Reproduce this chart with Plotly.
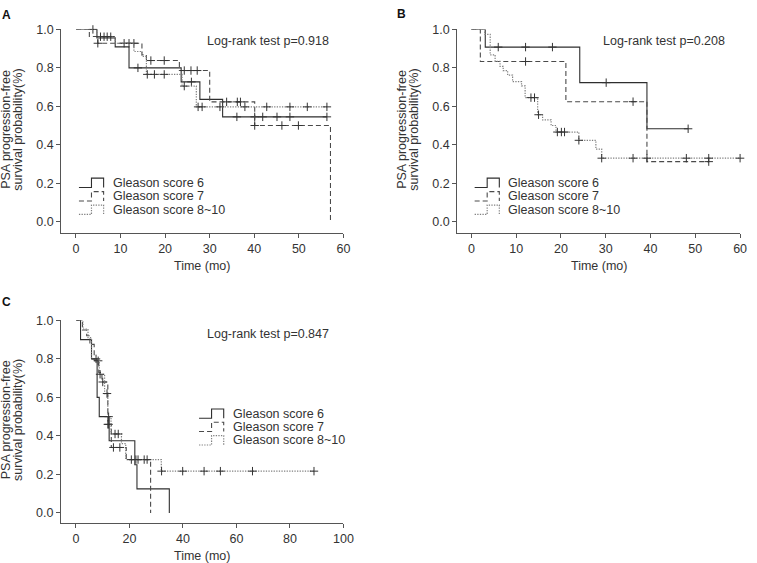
import numpy as np
import plotly.graph_objects as go

W, H = 757, 563

# ---------------- data ----------------
groups = ["Gleason score 6", "Gleason score 7", "Gleason score 8~10"]

# Panel A
A_g6_t = [0, 4.7, 8.8, 11.9, 23.6, 27.8, 32.9]
A_g6_s = [1.0, 0.955, 0.909, 0.80, 0.727, 0.636, 0.545]
A_g6_end = 56.3
A_g6_cens = [3.8, 13.9, 25.9, 36.1, 40.1, 41.9, 45.1, 48.0, 56.3]

A_g7_t = [0, 3.0, 4.9, 14.8, 15.8, 23.2, 30.0, 40.1, 57.1]
A_g7_s = [1.0, 0.963, 0.928, 0.868, 0.838, 0.786, 0.623, 0.50, 0.0]
A_g7_end = 57.1
A_g7_cens = [4.9, 10.8, 11.9, 13.0, 16.8, 19.8, 24.3, 25.8, 27.2,
             33.8, 36.2, 36.9, 40.1, 46.2, 49.9]

A_g8_t = [0, 4.7, 8.8, 13.0, 14.8, 15.8, 23.8, 27.0]
A_g8_s = [1.0, 0.962, 0.928, 0.885, 0.86, 0.766, 0.705, 0.597]
A_g8_end = 56.3
A_g8_cens = [5.5, 6.3, 7.0, 7.8, 16.0, 17.6, 19.8, 24.3, 27.4, 28.3,
             32.3, 37.9, 42.8, 48.0, 51.9, 56.3]

# Panel B
B_g6_t = [0, 3.1, 24.2, 39.2]
B_g6_s = [1.0, 0.908, 0.723, 0.483]
B_g6_end = 48.4
B_g6_cens = [6.0, 12.1, 18.1, 30.1, 48.4]

B_g7_t = [0, 2.0, 21.1, 39.2]
B_g7_s = [1.0, 0.833, 0.624, 0.312]
B_g7_end = 53.0
B_g7_cens = [12.1, 36.1, 53.0]

B_g8_t = [0, 3.0, 4.2, 5.3, 6.4, 7.1, 8.1, 9.2, 11.2, 12.0, 14.8, 15.9,
          17.8, 18.9, 24.0, 27.8, 29.1]
B_g8_s = [1.0, 0.974, 0.868, 0.834, 0.808, 0.786, 0.762, 0.728, 0.706,
          0.645, 0.556, 0.529, 0.50, 0.466, 0.423, 0.377, 0.33]
B_g8_end = 60.0
B_g8_cens = [13.3, 14.1, 15.0, 19.2, 20.1, 20.8, 24.0, 29.1, 36.1, 39.2,
             48.0, 53.0, 60.0]

# Panel C
C_g6_t = [0, 1.7, 5.8, 7.9, 8.7, 12.4, 22.0, 22.8, 34.9]
C_g6_s = [1.0, 0.90, 0.80, 0.60, 0.50, 0.375, 0.25, 0.125, 0.0]
C_g6_end = 34.9
C_g6_cens = []

C_g7_t = [0, 2.4, 4.0, 5.2, 6.8, 8.5, 9.7, 11.9, 13.2, 18.8, 27.9]
C_g7_s = [1.0, 0.95, 0.92, 0.875, 0.79, 0.73, 0.68, 0.46, 0.34, 0.277, 0.0]
C_g7_end = 27.9
C_g7_cens = [8.3, 10.0, 11.9, 12.2, 14.0, 16.4, 22.4, 25.5]

C_g8_t = [0, 2.6, 4.5, 5.8, 8.7, 10.7, 11.9, 13.1, 17.0, 18.6, 31.9]
C_g8_s = [1.0, 0.955, 0.91, 0.80, 0.72, 0.62, 0.50, 0.41, 0.36, 0.277, 0.217]
C_g8_end = 89.0
C_g8_cens = [7.5, 9.0, 11.6, 12.2, 14.6, 15.8, 20.7, 23.2, 26.6, 32.0,
             39.9, 47.9, 54.0, 66.0, 89.0]

pvalues = ["0.918", "0.208", "0.847"]
panel_letters = ["A", "B", "C"]
x_ticks_AB = [0, 10, 20, 30, 40, 50, 60]
x_ticks_C = [0, 20, 40, 60, 80, 100]
y_ticks = [0.0, 0.2, 0.4, 0.6, 0.8, 1.0]

# ---------------- styling ----------------
FONT = "Liberation Sans, Arial, Helvetica, sans-serif"
TXT = "#333333"
AX = "#555555"
FS = 12.5
styles = [
    dict(color="#2e2e2e", dash="solid", width=1.1),
    dict(color="#4a4a4a", dash="5px,3px", width=1.1),
    dict(color="#808080", dash="1.3px,1.3px", width=1.2),
]
CENS_COLOR = "#333333"


def px(x):
    return x / W


def py(y):
    return 1 - y / H


fig = go.Figure()

panels = [
    dict(name="A", series=[(A_g6_t, A_g6_s, A_g6_end, A_g6_cens),
                           (A_g7_t, A_g7_s, A_g7_end, A_g7_cens),
                           (A_g8_t, A_g8_s, A_g8_end, A_g8_cens)],
         xa="x", ya="y", xdom=(62, 348), ydom=(228.7, 22.7),
         xr=[-3.32, 60], yr=[-0.0586, 1.0], xt=x_ticks_AB),
    dict(name="B", series=[(B_g6_t, B_g6_s, B_g6_end, B_g6_cens),
                           (B_g7_t, B_g7_s, B_g7_end, B_g7_cens),
                           (B_g8_t, B_g8_s, B_g8_end, B_g8_cens)],
         xa="x2", ya="y2", xdom=(463.3, 750), ydom=(228.7, 22.7),
         xr=[-3.17, 60], yr=[-0.0586, 1.0], xt=x_ticks_AB),
    dict(name="C", series=[(C_g6_t, C_g6_s, C_g6_end, C_g6_cens),
                           (C_g7_t, C_g7_s, C_g7_end, C_g7_cens),
                           (C_g8_t, C_g8_s, C_g8_end, C_g8_cens)],
         xa="x3", ya="y3", xdom=(61.7, 348), ydom=(522.7, 317.3),
         xr=[-5.65, 100], yr=[-0.0533, 1.0], xt=x_ticks_C),
]

layout_axes = {}
annotations = []
shapes = []

for pi, p in enumerate(panels):
    for gi, (t, s, end, cens) in enumerate(p["series"]):
        st = styles[gi]
        xs = list(t)
        ys = list(s)
        if end > xs[-1]:
            xs.append(end)
            ys.append(ys[-1])
        fig.add_trace(go.Scatter(
            x=xs, y=ys, mode="lines", line_shape="hv",
            line=dict(color=st["color"], dash=st["dash"], width=st["width"]),
            xaxis=p["xa"], yaxis=p["ya"], showlegend=False,
            hoverinfo="skip", name=groups[gi]))
        if cens:
            tt = np.array(t, dtype=float)
            ss = np.array(s, dtype=float)
            idx = np.searchsorted(tt, np.array(cens, dtype=float), side="right") - 1
            cy = ss[idx]
            fig.add_trace(go.Scatter(
                x=cens, y=cy, mode="markers",
                marker=dict(symbol="cross-thin", size=6,
                            line=dict(color=CENS_COLOR, width=1)),
                xaxis=p["xa"], yaxis=p["ya"], showlegend=False,
                hoverinfo="skip", cliponaxis=False))

    xkey = "xaxis" + ("" if pi == 0 else str(pi + 1))
    ykey = "yaxis" + ("" if pi == 0 else str(pi + 1))
    axcommon = dict(showline=True, linecolor=AX, linewidth=1, ticks="outside",
                    ticklen=4, tickcolor=AX, tickwidth=1, showgrid=False,
                    zeroline=False, tickfont=dict(family=FONT, size=FS, color=TXT))
    layout_axes[xkey] = dict(domain=[px(p["xdom"][0]), px(p["xdom"][1])],
                             range=p["xr"], tickvals=p["xt"],
                             anchor=p["ya"], **axcommon)
    layout_axes[ykey] = dict(domain=[py(p["ydom"][0]), py(p["ydom"][1])],
                             range=p["yr"], tickvals=y_ticks,
                             tickformat=".1f", anchor=p["xa"], **axcommon)

    x0, x1 = p["xdom"]
    yb, yt = p["ydom"]
    xc = (x0 + x1) / 2
    # x title
    annotations.append(dict(x=px(xc), y=py(yb + 33.5), xref="paper", yref="paper",
                            text="Time (mo)", showarrow=False,
                            font=dict(family=FONT, size=FS, color=TXT),
                            xanchor="center", yanchor="middle"))
    # y title (two lines)
    yc = (yt + (yb - 11.4)) / 2 + 4
    for li, line in enumerate(["PSA progression-free", "survival probability(%)"]):
        annotations.append(dict(x=px(x0 - 55.5 + 12 * li), y=py(yc), xref="paper",
                                yref="paper", text=line, showarrow=False,
                                textangle=-90,
                                font=dict(family=FONT, size=FS, color=TXT),
                                xanchor="center", yanchor="middle"))
    # panel letter
    letter_x = {0: 7, 1: 407, 2: 7}[pi]
    letter_y = {0: 8, 1: 7, 2: 299}[pi]
    annotations.append(dict(x=px(letter_x), y=py(letter_y), xref="paper", yref="paper",
                            text="<b>%s</b>" % panel_letters[pi], showarrow=False,
                            font=dict(family=FONT, size=12, color="#111111"),
                            xanchor="center", yanchor="middle"))
    # log-rank text
    lr_x = {0: 271.5, 1: 672.5, 2: 271.5}[pi]
    lr_y = {0: 34, 1: 34, 2: 331}[pi]
    annotations.append(dict(x=px(lr_x), y=py(lr_y), xref="paper", yref="paper",
                            text="Log-rank test p=%s" % pvalues[pi], showarrow=False,
                            font=dict(family=FONT, size=FS, color=TXT),
                            xanchor="center", yanchor="middle"))
    # legend
    icon_x0 = {0: 80, 1: 481, 2: 201.7}[pi]
    rows = {0: [178, 191.7, 205.3], 1: [178, 191.7, 205.3], 2: [411.7, 425.2, 438.8]}[pi]
    for gi, ry in enumerate(rows):
        st = styles[gi]
        a = icon_x0
        b = icon_x0 + 12.7
        c = icon_x0 + 25
        bot = ry + 4.7
        top = ry - 4.7
        path = "M %f,%f L %f,%f L %f,%f L %f,%f L %f,%f" % (
            px(a), py(bot), px(b), py(bot), px(b), py(top), px(c), py(top), px(c), py(bot))
        shapes.append(dict(type="path", path=path, xref="paper", yref="paper",
                           line=dict(color=st["color"], dash=st["dash"], width=st["width"])))
        annotations.append(dict(x=px(icon_x0 + 32), y=py(ry), xref="paper", yref="paper",
                                text=groups[gi], showarrow=False,
                                font=dict(family=FONT, size=FS, color=TXT),
                                xanchor="left", yanchor="middle"))

fig.update_layout(
    width=W, height=H, margin=dict(l=0, r=0, t=0, b=0),
    paper_bgcolor="white", plot_bgcolor="white",
    annotations=annotations, shapes=shapes, showlegend=False,
    hovermode=False,
    **layout_axes,
)

fig.write_html("out.html",
               config={"displayModeBar": False, "staticPlot": True},
               post_script="document.body.style.margin='0';"
                           "document.body.style.overflow='hidden';")
